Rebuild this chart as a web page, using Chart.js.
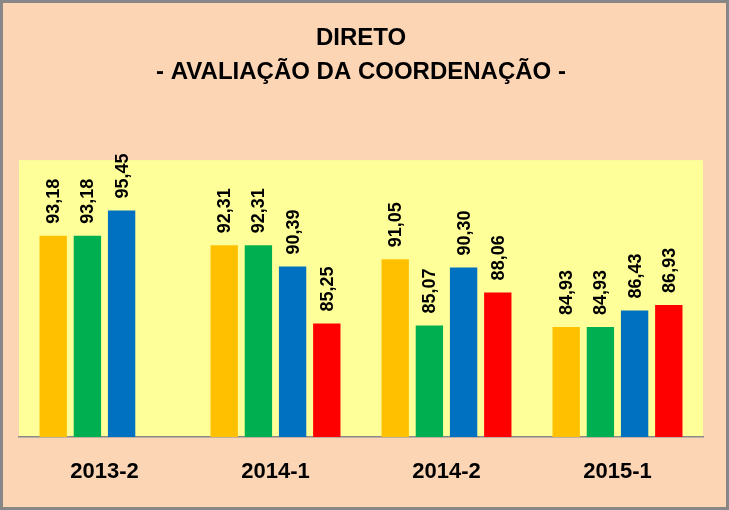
<!DOCTYPE html>
<html>
<head>
<meta charset="utf-8">
<script src="https://cdn.jsdelivr.net/npm/chart.js@4/dist/chart.umd.min.js"></script>
<style>
  body { margin: 0; background: #fff; }
  #box { width: 729px; height: 510px; box-sizing: border-box; border: 3px solid #878787; background: #FCD5B5; }
  canvas { display: block; }
</style>
</head>
<body>
<div id="box"><canvas id="grafico" width="723" height="504"></canvas></div>
<script>
const semestres = ['2013-2', '2014-1', '2014-2', '2015-1'];
const serie1 = [93.18, 92.31, 91.05, 84.93];
const serie2 = [93.18, 92.31, 85.07, 84.93];
const serie3 = [95.45, 90.39, 90.30, 86.43];
const serie4 = [null, 85.25, 88.06, 86.93];
const cores = ['#FFC000', '#00B050', '#0070C0', '#FF0000'];

const fonte = '"Liberation Sans", Arial, sans-serif';

// fundo amarelo da área de plotagem
const fundoPlot = {
  id: 'fundoPlot',
  beforeDraw(chart) {
    const { ctx, chartArea: a } = chart;
    ctx.save();
    ctx.fillStyle = '#FFFF99';
    ctx.fillRect(a.left, a.top, a.right - a.left, a.bottom - a.top);
    ctx.restore();
  }
};

// rótulos verticais acima das barras
const rotulos = {
  id: 'rotulos',
  afterDatasetsDraw(chart) {
    const ctx = chart.ctx;
    ctx.save();
    ctx.font = 'bold 18px ' + fonte;
    ctx.fillStyle = '#000';
    ctx.textAlign = 'left';
    ctx.textBaseline = 'middle';
    chart.data.datasets.forEach((ds, i) => {
      chart.getDatasetMeta(i).data.forEach((bar, j) => {
        const v = ds.data[j];
        if (v == null) return;
        ctx.save();
        ctx.translate(bar.x + 1, bar.y - 12);
        ctx.rotate(-Math.PI / 2);
        ctx.fillText(v.toFixed(2).replace('.', ','), 0, 0);
        ctx.restore();
      });
    });
    ctx.restore();
  }
};

new Chart(document.getElementById('grafico'), {
  type: 'bar',
  data: {
    labels: semestres,
    datasets: [serie1, serie2, serie3, serie4].map((d, i) => ({
      label: 'S' + (i + 1),
      data: d,
      backgroundColor: cores[i],
      borderWidth: 0
    }))
  },
  options: {
    responsive: false,
    animation: false,
    datasets: { bar: { categoryPercentage: 0.8, barPercentage: 0.8 } },
    layout: { padding: { left: 16, right: 23, bottom: 0 } },
    plugins: {
      legend: { display: false },
      tooltip: { enabled: false },
      title: {
        display: true,
        text: ['DIRETO', '- AVALIAÇÃO DA COORDENAÇÃO -'],
        color: '#000',
        font: { family: fonte, size: 24, weight: 'bold', lineHeight: 1.42 },
        padding: { top: 18, bottom: 71 }
      }
    },
    scales: {
      x: {
        grid: { display: false, drawTicks: false },
        border: { display: true, color: '#8A8A8A', width: 1.5 },
        ticks: { color: '#000', padding: 22, font: { family: fonte, size: 22, weight: 'bold' } },
        afterFit(s) { s.height = 70; }
      },
      y: {
        display: false,
        min: 75,
        max: 100
      }
    }
  },
  plugins: [fundoPlot, rotulos]
});
</script>
</body>
</html>
